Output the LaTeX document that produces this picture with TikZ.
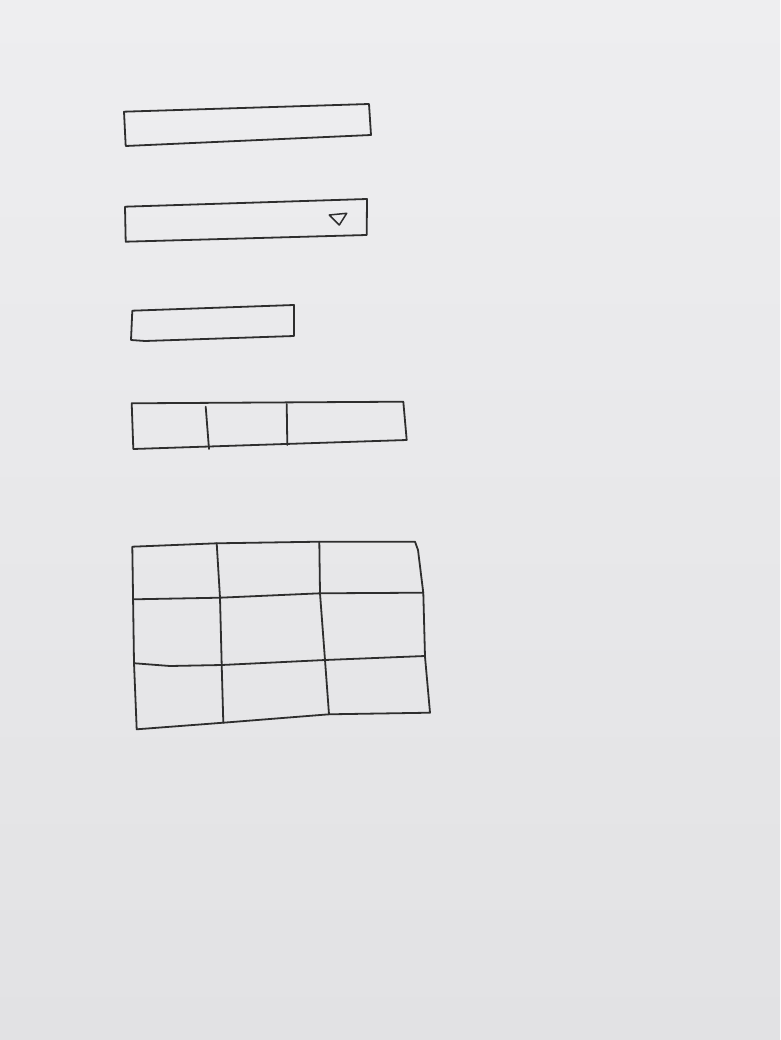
\documentclass[tikz,border=0pt]{standalone}
\begin{document}
\begin{tikzpicture}[x=1pt,y=-1pt,
  pen/.style={draw=black!82, line width=1.8pt, line join=round, line cap=round}]
\definecolor{paperA}{RGB}{238,238,240}
\definecolor{paperB}{RGB}{226,226,228}
\useasboundingbox (0,0) rectangle (780,1040);
\shade[top color=paperA, bottom color=paperB] (0,0) rectangle (780,1040);
% text field
\draw[pen] (124,111.7) -- (369,104) -- (371,135) -- (125.7,146) -- cycle;
% dropdown
\draw[pen] (125,206.7) -- (367,199) -- (366.7,235) -- (125.7,241.7) -- cycle;
\draw[pen, line width=1.5pt] (329.3,215) -- (346.7,213.3) -- (339.3,225) -- cycle;
% button
\draw[pen] (132.3,310.7) -- (294,305) -- (294,336) -- (145,341) -- (131,340) -- (132.3,310.7);
% segmented row
\draw[pen] (131.7,403.3) -- (403.3,401.7) -- (406.7,440) -- (133.3,449) -- cycle;
\draw[pen] (205.7,406.7) -- (209,449);
\draw[pen] (286.7,404) -- (287.3,445);
% grid
\draw[pen] (132.3,546.7) -- (216.7,543.3) -- (319.3,541.7) -- (415,541.7)
  -- (418,550) -- (423.3,593) -- (425,656.7) -- (430,712.7)
  -- (329,714.3) -- (223.3,722.7) -- (136.7,729.3) -- (134,663) -- cycle;
\draw[pen] (216.7,543.3) -- (220,597.7) -- (221.7,665) -- (223.3,722.7);
\draw[pen] (319.3,541.7) -- (320,593.3) -- (325,660) -- (329,714.3);
\draw[pen] (134,599.3) -- (220,597.7) -- (320,593.3) -- (423.3,592.7);
\draw[pen] (135,663.3) -- (170,666) -- (221.7,665) -- (325,660) -- (425,656);
\end{tikzpicture}
\end{document}
